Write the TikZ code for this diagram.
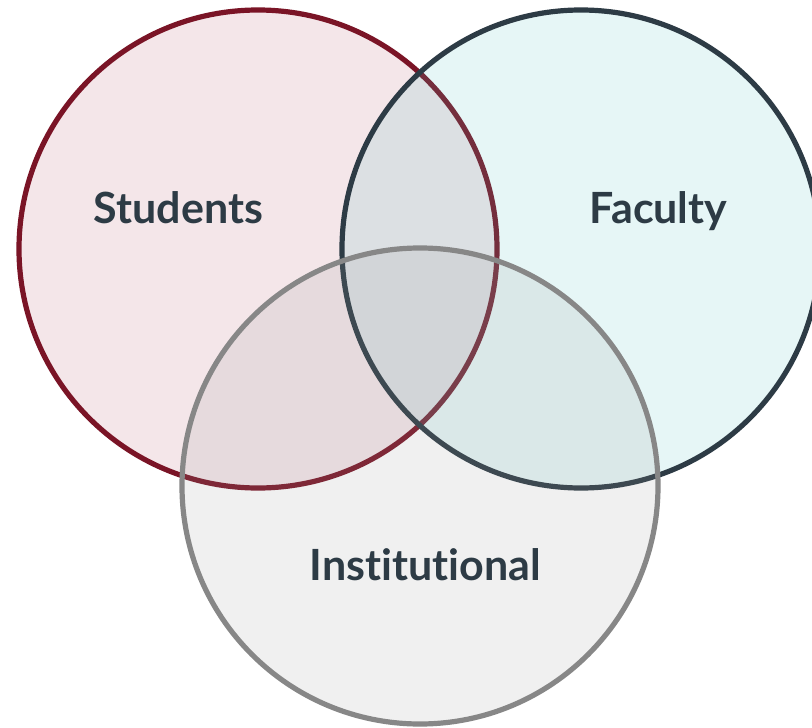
\documentclass[tikz,border=0pt]{standalone}
\usepackage{fontspec}
\setmainfont{Lato}[UprightFont=* Bold, Ligatures=NoCommon]
\definecolor{stuline}{HTML}{7A1426}
\definecolor{facline}{HTML}{2D3B45}
\definecolor{insline}{HTML}{878787}
\definecolor{stufill}{HTML}{B65A6C}
\definecolor{facfill}{HTML}{58C3C3}
\definecolor{insfill}{HTML}{9B9B9B}
\definecolor{txt}{HTML}{2D3B45}
\tikzset{
  venn/.style={line width=5.2pt, fill opacity=0.15, draw opacity=1},
  lbl/.style={text=txt, font=\fontsize{43}{50}\selectfont, anchor=base, inner sep=0pt}
}
\begin{document}
\begin{tikzpicture}[x=1pt,y=-1pt]
\useasboundingbox (0,0) rectangle (812,728);
\clip (0,0) rectangle (812,728);
\fill[white] (0,0) rectangle (812,728);
\draw[venn, draw=stuline, fill=stufill] (258,249) circle[radius=239];
\draw[venn, draw=facline, fill=facfill] (581,249) circle[radius=239];
\draw[venn, draw=insline, fill=insfill] (420,486) circle[radius=238];
\node[lbl] (students) at (178.5,223) {Students};
\node[lbl] (faculty) at (658.5,223) {Faculty};
\node[lbl] (institutional) at (425.5,580) {Institutional};
\end{tikzpicture}
\end{document}
